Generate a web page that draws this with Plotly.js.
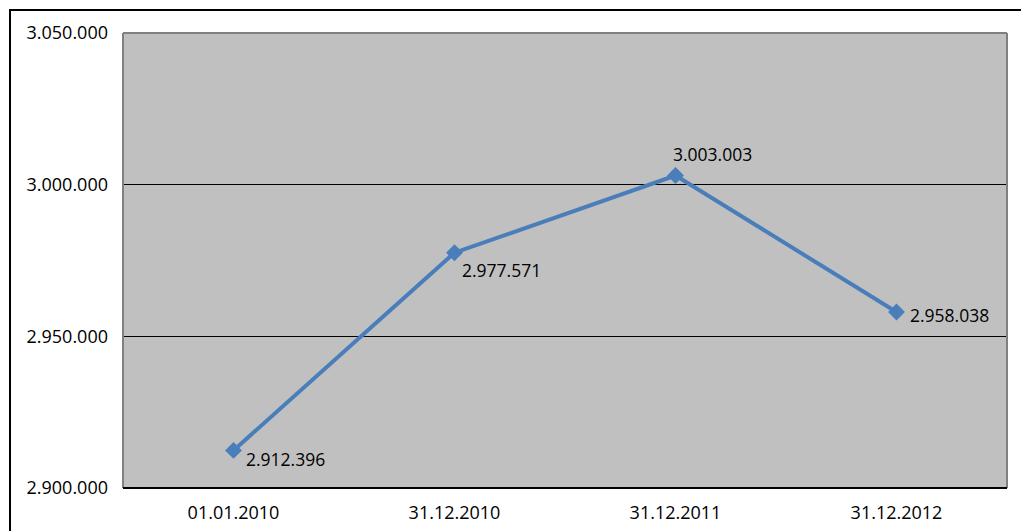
<!DOCTYPE html>
<html><head><meta charset="utf-8">
<script src="https://cdn.plot.ly/plotly-3.0.1.min.js"></script>
<style>html,body{margin:0;padding:0;background:#fff}#c{width:1021px;height:531px}</style>
</head><body><div id="c"></div>
<script>
const categories = ["01.01.2010", "31.12.2010", "31.12.2011", "31.12.2012"];
const values = [2912396, 2977571, 3003003, 2958038];
const yTicks = [2900000, 2950000, 3000000, 3050000];
const labelShiftX = [52, 47, 37, 53];
const labelShiftY = [-9, -17, 22, -3];

function fmt(v){ return String(v).replace(/\B(?=(\d{3})+(?!\d))/g, "."); }

const FONT = "'Open Sans', 'Noto Sans', sans-serif";

const trace = {
  x: categories, y: values, type: "scatter", mode: "lines+markers",
  line: {color: "#4a7ebb", width: 4},
  marker: {symbol: "diamond", size: 13, color: "#4a7ebb"},
  hoverinfo: "none"
};

const annotations = categories.map((c, i) => ({
  x: c, y: values[i], xref: "x", yref: "y", text: fmt(values[i]),
  showarrow: false, xshift: labelShiftX[i], yshift: labelShiftY[i],
  font: {family: FONT, size: 17.5, color: "#000"}
}));

const grayLine = {color: "#808080", width: 2};
const shapes = [
  {type: "line", xref: "paper", yref: "paper", x0: 0, x1: 1, y0: 1, y1: 1, line: grayLine, layer: "above"},
  {type: "line", xref: "paper", yref: "paper", x0: 0, x1: 0, y0: 0, y1: 1, line: grayLine, layer: "above"},
  {type: "line", xref: "paper", yref: "paper", x0: 1, x1: 1, y0: 0, y1: 1, line: grayLine, layer: "above"},
  {type: "line", xref: "paper", yref: "paper", x0: 0, x1: 1, y0: 0, y1: 0, line: {color: "#000", width: 2}, layer: "above"},
  {type: "rect", xref: "paper", yref: "paper", x0: (10-123)/884, x1: 1.05, y0: -0.2, y1: 1 + 23/455, line: {color: "#000", width: 2}, layer: "above"}
];

const layout = {
  width: 1021, height: 531,
  margin: {l: 123, r: 14, t: 33, b: 43},
  paper_bgcolor: "#fff", plot_bgcolor: "#c0c0c0",
  showlegend: false,
  font: {family: FONT, size: 18, color: "#000"},
  xaxis: {
    type: "category", range: [-0.5, 3.5], showgrid: false, zeroline: false,
    showline: false, ticks: "", tickfont: {family: FONT, size: 18}, ticklabelstandoff: 12
  },
  yaxis: {
    range: [2900000, 3050000], tickvals: yTicks, ticktext: yTicks.map(fmt),
    showgrid: true, gridcolor: "#000", gridwidth: 1, zeroline: false,
    showline: false, ticks: "", tickfont: {family: FONT, size: 18}, ticklabelstandoff: 14
  },
  annotations: annotations,
  shapes: shapes
};

Plotly.newPlot("c", [trace], layout, {staticPlot: true, displayModeBar: false});
</script></body></html>
